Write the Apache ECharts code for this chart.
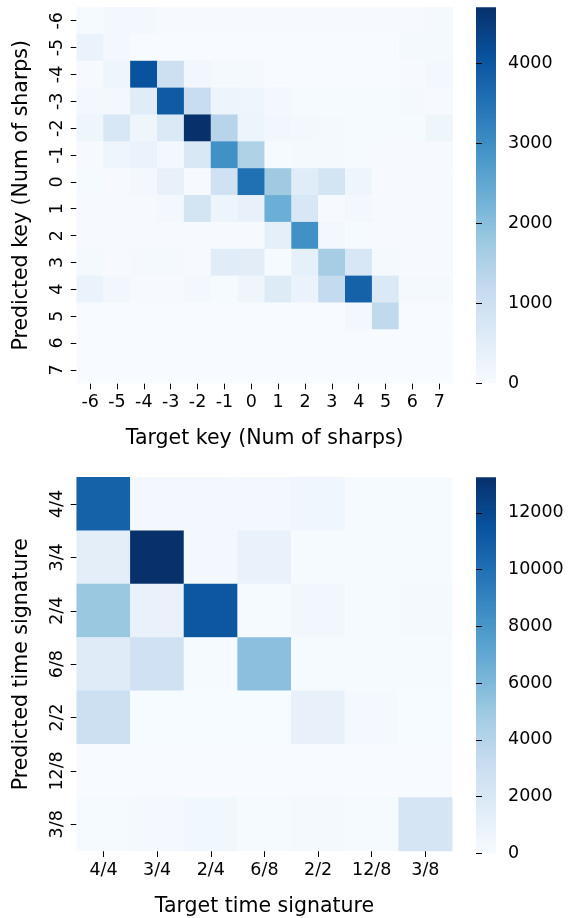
<!DOCTYPE html>
<html>
<head>
<meta charset="utf-8">
<script src="https://cdn.jsdelivr.net/npm/echarts@6/dist/echarts.min.js"></script>
<style>
html,body{margin:0;padding:0;background:#fff;}
#chart{width:570px;height:918px;}
</style>
</head>
<body>
<div id="chart"></div>
<script>
// ---- data ----
var keyLabels = ['-6','-5','-4','-3','-2','-1','0','1','2','3','4','5','6','7'];
// rows = predicted key (-6 .. 7), columns = target key (-6 .. 7)
var keyRowM6 = [40, 110, 100, 20, 20, 20, 20, 20, 20, 20, 20, 20, 30, 70];
var keyRowM5 = [300, 120, 10, 10, 10, 10, 10, 10, 10, 10, 10, 10, 80, 60];
var keyRowM4 = [30, 200, 4100, 1000, 150, 80, 80, 10, 10, 10, 10, 10, 20, 100];
var keyRowM3 = [120, 120, 550, 3950, 1100, 250, 200, 120, 50, 50, 50, 50, 60, 30];
var keyRowM2 = [200, 750, 200, 650, 4700, 1400, 250, 150, 100, 60, 40, 40, 40, 200];
var keyRowM1 = [30, 200, 300, 120, 700, 2950, 1500, 50, 80, 60, 40, 30, 30, 20];
var keyRow0  = [40, 30, 120, 350, 30, 950, 3550, 1750, 550, 850, 200, 20, 20, 20];
var keyRow1  = [30, 30, 30, 100, 850, 250, 350, 2350, 750, 20, 120, 30, 30, 30];
var keyRow2  = [20, 20, 20, 20, 20, 20, 20, 450, 2950, 100, 40, 20, 20, 20];
var keyRow3  = [80, 20, 80, 80, 20, 550, 500, 50, 400, 1650, 750, 80, 30, 20];
var keyRow4  = [300, 150, 30, 30, 100, 50, 200, 600, 300, 1200, 3800, 650, 80, 80];
var keyRow5  = [10, 10, 10, 10, 10, 10, 10, 10, 10, 10, 100, 1250, 10, 10];
var keyRow6  = [5, 5, 5, 5, 5, 5, 5, 5, 5, 5, 5, 5, 5, 5];
var keyRow7  = [5, 5, 5, 5, 5, 5, 5, 5, 5, 5, 5, 5, 5, 5];
var keyMax = 4700;
var keyBarTicks = [0, 1000, 2000, 3000, 4000];

var tsLabels = ['4/4','3/4','2/4','6/8','2/2','12/8','3/8'];
// rows = predicted time signature, columns = target time signature
var tsRow44  = [10700, 300, 300, 300, 500, 100, 100];
var tsRow34  = [1300, 13250, 300, 900, 100, 100, 100];
var tsRow24  = [5100, 900, 11300, 150, 400, 100, 200];
var tsRow68  = [1600, 2700, 100, 5600, 100, 100, 100];
var tsRow22  = [2800, 50, 50, 50, 1000, 250, 50];
var tsRow128 = [20, 20, 20, 20, 20, 20, 20];
var tsRow38  = [100, 250, 450, 100, 200, 100, 2300];
var tsMax = 13250;
var tsBarTicks = [0, 2000, 4000, 6000, 8000, 10000, 12000];

var blues = ['#f7fbff','#deebf7','#c6dbef','#9ecae1','#6baed6','#4292c6','#2171b5','#08519c','#08306b'];

// ---- build ----
var keyRows = [keyRowM6, keyRowM5, keyRowM4, keyRowM3, keyRowM2, keyRowM1, keyRow0, keyRow1, keyRow2, keyRow3, keyRow4, keyRow5, keyRow6, keyRow7];
var tsRows = [tsRow44, tsRow34, tsRow24, tsRow68, tsRow22, tsRow128, tsRow38];
function toCells(rows){
  var out = [];
  rows.forEach(function(r, ri){ r.forEach(function(v, ci){ out.push([ci, ri, v]); }); });
  return out;
}
var FONT = 'DejaVu Sans';
var TICK = 17.5, TITLE = 20.5;
var G1 = {left: 76.7, top: 7.3, width: 376, height: 376};
var G2 = {left: 76.7, top: 477.3, width: 375.5, height: 376};
var CB1 = {left: 476, top: 7.3, width: 20, height: 376};
var CB2 = {left: 476, top: 477.3, width: 20, height: 376};

function catX(idx, labels, name){
  return {type:'category', gridIndex: idx, data: labels, position:'bottom',
    name: name, nameLocation:'middle', nameGap: 45,
    nameTextStyle:{fontFamily:FONT, fontSize:TITLE, color:'#000'},
    axisLine:{show:false}, splitLine:{show:false},
    axisTick:{show:true, alignWithLabel:true, length:6, lineStyle:{color:'#000', width:1}},
    axisLabel:{fontFamily:FONT, fontSize:TICK, color:'#000', margin:10, interval:0}};
}
function catY(idx, labels, name){
  return {type:'category', gridIndex: idx, data: labels, inverse:true,
    name: name, nameLocation:'middle', nameGap: 45, nameRotate: 90,
    nameTextStyle:{fontFamily:FONT, fontSize:TITLE, color:'#000'},
    axisLine:{show:false}, splitLine:{show:false},
    axisTick:{show:true, alignWithLabel:true, length:6, lineStyle:{color:'#000', width:1}},
    axisLabel:{fontFamily:FONT, fontSize:TICK, color:'#000', margin:10, rotate:90, interval:0}};
}
function barY(idx, max, ticks){
  return {type:'value', gridIndex: idx, min:0, max:max, position:'right',
    axisLine:{show:false}, splitLine:{show:false},
    axisTick:{show:true, length:6, customValues: ticks, lineStyle:{color:'#000', width:1}},
    axisLabel:{fontFamily:FONT, fontSize:TICK, color:'#000', margin:12, customValues: ticks,
      formatter: function(v){ return String(v); }}};
}
function gradRect(cb){
  var stops = blues.map(function(c,i){ return {offset: i/(blues.length-1), color: c}; });
  return {type:'rect', shape:{x:cb.left, y:cb.top, width:cb.width, height:cb.height}, z:-1,
    style:{fill:{type:'linear', x:0, y:1, x2:0, y2:0, colorStops: stops}}};
}

var option = {
  animation:false,
  backgroundColor:'#fff',
  grid:[G1, G2, CB1, CB2],
  xAxis:[
    catX(0, keyLabels, 'Target key (Num of sharps)'),
    catX(1, tsLabels, 'Target time signature'),
    {type:'value', gridIndex:2, show:false},
    {type:'value', gridIndex:3, show:false}
  ],
  yAxis:[
    catY(0, keyLabels, 'Predicted key (Num of sharps)'),
    catY(1, tsLabels, 'Predicted time signature'),
    barY(2, keyMax, keyBarTicks),
    barY(3, tsMax, tsBarTicks)
  ],
  visualMap:[
    {type:'continuous', show:false, seriesIndex:0, min:0, max:keyMax, inRange:{color:blues}},
    {type:'continuous', show:false, seriesIndex:1, min:0, max:tsMax, inRange:{color:blues}}
  ],
  graphic:[gradRect(CB1), gradRect(CB2)],
  series:[
    {type:'heatmap', xAxisIndex:0, yAxisIndex:0, data: toCells(keyRows), itemStyle:{borderWidth:0}, emphasis:{disabled:true}},
    {type:'heatmap', xAxisIndex:1, yAxisIndex:1, data: toCells(tsRows), itemStyle:{borderWidth:0}, emphasis:{disabled:true}}
  ]
};
var chart = echarts.init(document.getElementById('chart'), null, {renderer:'canvas'});
chart.setOption(option);
</script>
</body>
</html>
